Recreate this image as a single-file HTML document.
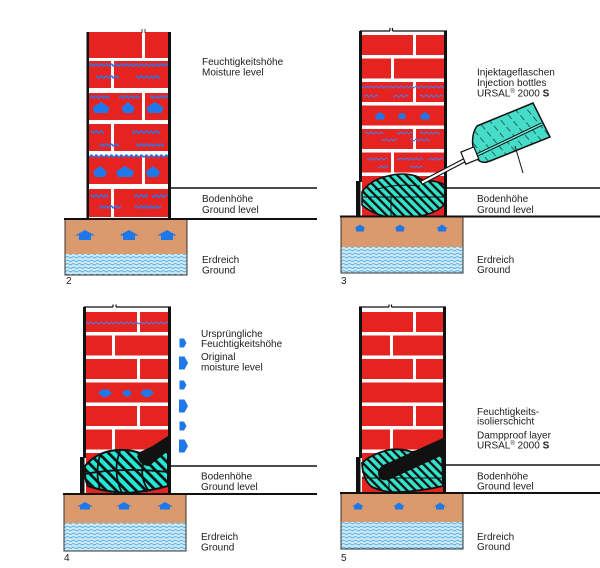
<!DOCTYPE html>
<html><head><meta charset="utf-8"><style>
html,body{margin:0;padding:0;background:#fff}
svg{display:block}
text{font-family:"Liberation Sans",Arial,sans-serif;font-size:10px;fill:#1c1c1c}
</style></head><body>
<svg width="600" height="568" viewBox="0 0 600 568" xmlns="http://www.w3.org/2000/svg">
<defs>
<pattern id="mw" patternUnits="userSpaceOnUse" x="0" y="-2" width="5" height="4"><path d="M0 2 Q1.25 0.2 2.5 2 T5 2" fill="none" stroke="#2f74e6" stroke-width="1.8"/></pattern>
<pattern id="mw2" patternUnits="userSpaceOnUse" x="0" y="-2" width="5" height="4"><path d="M0 2 Q1.25 0.4 2.5 2 T5 2" fill="none" stroke="#5a6fd6" stroke-width="1.3"/></pattern>
<pattern id="wt" patternUnits="userSpaceOnUse" width="6" height="3.5"><rect width="6" height="3.5" fill="#cbe9f5"/><path d="M0 1.75 Q1.5 0.4 3 1.75 T6 1.75" fill="none" stroke="#3f9fdc" stroke-width="0.7"/></pattern>
<pattern id="gh" patternUnits="userSpaceOnUse" width="6" height="6" patternTransform="rotate(-45)"><rect width="6" height="6" fill="#33e3cc"/><rect width="2.3" height="6" fill="#111"/></pattern>
<pattern id="gh2" patternUnits="userSpaceOnUse" width="7" height="7" patternTransform="rotate(-45)"><rect width="7" height="7" fill="#22e8d8"/><rect width="2.8" height="7" fill="#111"/></pattern>
<pattern id="bh" patternUnits="userSpaceOnUse" width="9" height="9" patternTransform="rotate(-40)"><rect width="9" height="9" fill="#45dcc8"/><rect width="0.8" height="6" fill="#1a4a44"/></pattern>
</defs>

<!-- ================= PANEL 2 ================= -->
<g fill="#e52421">
<rect x="89" y="32" width="53" height="26"/><rect x="145" y="32" width="23" height="26"/>
<rect x="89" y="61" width="22" height="27"/><rect x="114" y="61" width="54" height="27"/>
<rect x="89" y="93" width="53" height="27"/><rect x="145" y="93" width="23" height="27"/>
<rect x="89" y="124" width="22" height="27"/><rect x="114" y="124" width="54" height="27"/>
<rect x="89" y="156" width="53" height="28"/><rect x="145" y="156" width="23" height="28"/>
<rect x="89" y="189" width="22" height="28"/><rect x="114" y="189" width="54" height="28"/>
</g>
<g>
<rect x="89" y="-2" width="79" height="4" fill="url(#mw)" transform="translate(0,65)"/>
<rect x="96" y="-2" width="23" height="4" fill="url(#mw)" transform="translate(0,77)"/>
<rect x="136" y="-2" width="24" height="4" fill="url(#mw)" transform="translate(0,77)"/>
<rect x="90" y="-2" width="20" height="4" fill="url(#mw)" transform="translate(0,97)"/>
<rect x="119" y="-2" width="21" height="4" fill="url(#mw)" transform="translate(0,97)"/>
<rect x="150" y="-2" width="18" height="4" fill="url(#mw)" transform="translate(0,97)"/>
<rect x="91" y="-2" width="13" height="4" fill="url(#mw)" transform="translate(0,132)"/>
<rect x="132" y="-2" width="28" height="4" fill="url(#mw)" transform="translate(0,132)"/>
<rect x="99" y="-2" width="20" height="4" fill="url(#mw)" transform="translate(0,145)"/>
<rect x="136" y="-2" width="28" height="4" fill="url(#mw)" transform="translate(0,145)"/>
<rect x="89" y="-2" width="79" height="4" fill="url(#mw)" transform="translate(0,156)"/>
<rect x="91" y="-2" width="17" height="4" fill="url(#mw)" transform="translate(0,196)"/>
<rect x="134" y="-2" width="14" height="4" fill="url(#mw)" transform="translate(0,196)"/>
<rect x="152" y="-2" width="15" height="4" fill="url(#mw)" transform="translate(0,196)"/>
<rect x="99" y="-2" width="22" height="4" fill="url(#mw)" transform="translate(0,207)"/>
<rect x="135" y="-2" width="26" height="4" fill="url(#mw)" transform="translate(0,207)"/>
</g>
<g fill="#1f78ea">
<polygon points="101,102 109.5,107.5 107.5,113 94.5,113 92.5,107.5"/>
<polygon points="128,102 134.5,107.5 132.5,113 123.5,113 121.5,107.5"/>
<polygon points="155,102 163.5,107.5 161.5,113 148.5,113 146.5,107.5"/>
<polygon points="100,166 107,171.5 105,177 95,177 93,171.5"/>
<polygon points="125,166 134,171.5 132,177 118,177 116,171.5"/>
<polygon points="153,166 160,171.5 158,177 148,177 146,171.5"/>
</g>
<rect x="86.5" y="32" width="2.5" height="188" fill="#111"/>
<rect x="168" y="32" width="3" height="188" fill="#111"/>
<path d="M142,29 V33 M145,29 V33" stroke="#111" stroke-width="0.8"/>
<rect x="65" y="219" width="122" height="56" fill="#db9a6e"/>
<rect x="65" y="254" width="122" height="21" fill="url(#wt)"/>
<path d="M65,219 V275 H187 V219" fill="none" stroke="#333" stroke-width="1"/>
<g fill="#1f78ea">
<path d="M85,230 L95,235.5 L91,235.5 L91,240 L79,240 L79,235.5 L75,235.5 Z"/>
<path d="M129,230 L139,235.5 L135,235.5 L135,240 L123,240 L123,235.5 L119,235.5 Z"/>
<path d="M167,230 L177,235.5 L173,235.5 L173,240 L161,240 L161,235.5 L157,235.5 Z"/>
</g>
<g stroke="#111">
<line x1="170" y1="188" x2="317" y2="188" stroke-width="1.5"/>
<line x1="64" y1="219" x2="317" y2="219" stroke-width="2"/>
</g>
<text x="202" y="65">Feuchtigkeitshöhe</text>
<text x="202" y="75.5">Moisture level</text>
<text x="202" y="202">Bodenhöhe</text>
<text x="202" y="213">Ground level</text>
<text x="202" y="263">Erdreich</text>
<text x="202" y="273.5">Ground</text>
<text x="66" y="284">2</text>

<!-- ================= PANEL 3 ================= -->
<g fill="#e52421">
<rect x="362" y="35" width="51" height="20"/><rect x="416" y="35" width="28" height="20"/>
<rect x="362" y="58.5" width="29" height="20"/><rect x="394" y="58.5" width="50" height="20"/>
<rect x="362" y="82" width="51" height="20"/><rect x="416" y="82" width="28" height="20"/>
<rect x="362" y="105.5" width="82" height="20"/>
<rect x="362" y="129" width="51" height="20"/><rect x="416" y="129" width="28" height="20"/>
<rect x="362" y="152.5" width="29" height="20"/><rect x="394" y="152.5" width="50" height="20"/>
<rect x="362" y="176" width="51" height="20"/><rect x="416" y="176" width="28" height="20"/>
<rect x="362" y="199.5" width="29" height="17.5"/><rect x="394" y="199.5" width="50" height="17.5"/>
</g>
<g>
<rect x="362" y="-2" width="82" height="4" fill="url(#mw2)" transform="translate(0,87)"/>
<rect x="364" y="-2" width="14" height="4" fill="url(#mw2)" transform="translate(0,96)"/>
<rect x="393" y="-2" width="15" height="4" fill="url(#mw2)" transform="translate(0,96)"/>
<rect x="420" y="-2" width="23" height="4" fill="url(#mw2)" transform="translate(0,96)"/>
<rect x="365" y="-2" width="18" height="4" fill="url(#mw2)" transform="translate(0,133)"/>
<rect x="397" y="-2" width="15" height="4" fill="url(#mw2)" transform="translate(0,133)"/>
<rect x="420" y="-2" width="20" height="4" fill="url(#mw2)" transform="translate(0,133)"/>
<rect x="382" y="-2" width="15" height="4" fill="url(#mw2)" transform="translate(0,140)"/>
<rect x="410" y="-2" width="20" height="4" fill="url(#mw2)" transform="translate(0,140)"/>
<rect x="367" y="-2" width="20" height="4" fill="url(#mw2)" transform="translate(0,159)"/>
<rect x="397" y="-2" width="26" height="4" fill="url(#mw2)" transform="translate(0,159)"/>
<rect x="428" y="-2" width="15" height="4" fill="url(#mw2)" transform="translate(0,159)"/>
<rect x="378" y="-2" width="10" height="4" fill="url(#mw2)" transform="translate(0,167)"/>
<rect x="410" y="-2" width="13" height="4" fill="url(#mw2)" transform="translate(0,167)"/>
</g>
<g fill="#1f78ea">
<polygon points="380,112 385,115.5 384,119.5 376,119.5 375,115.5"/>
<polygon points="402,112.5 406,115.5 405,119 399,119 398,115.5"/>
<polygon points="425,112 430,115.5 429,119.5 421,119.5 420,115.5"/>
</g>
<!-- injection blob -->
<path d="M362,192 Q370,180 388,176 Q402,172 416,176 L424,181 Q436,180 445,185 L445,203 Q440,211 425,215 Q405,219 388,217 Q372,214 362,205 Z" fill="url(#gh)" stroke="#111" stroke-width="1.6"/>
<path d="M362,197 L445,197 M391,197 L391,217 M375,190 Q395,183 420,186" fill="none" stroke="#111" stroke-width="1"/>
<!-- walls -->
<rect x="359" y="31" width="3" height="151" fill="#111"/>
<rect x="356" y="181" width="4.5" height="36" fill="#111"/>
<rect x="444" y="31" width="3" height="186" fill="#111"/>
<path d="M360,31 H390 M392.5,31 H447 M390,28 V31 M392.5,28 V31" stroke="#111" stroke-width="1.2" fill="none"/>
<!-- bottle -->
<line x1="465" y1="160" x2="421" y2="183" stroke="#111" stroke-width="4.5"/>
<line x1="465" y1="160" x2="422" y2="182.5" stroke="#fff" stroke-width="2.3"/>
<path d="M477,126 L533,103 L550,137 L490,161 Q478,166 474,152 Q470,136 477,126 Z" fill="url(#bh)" stroke="#111" stroke-width="1.5"/>
<line x1="477" y1="155" x2="542" y2="124" stroke="#111" stroke-width="3.4"/>
<line x1="477" y1="155" x2="542" y2="124" stroke="#6ef0e0" stroke-width="1.4"/>
<rect x="-7" y="-7" width="14" height="13" transform="translate(470,156) rotate(-22)" fill="#fff" stroke="#111" stroke-width="1.2"/>
<line x1="515" y1="146" x2="523" y2="173" stroke="#111" stroke-width="1"/>
<rect x="341" y="216.5" width="122" height="56.5" fill="#db9a6e"/>
<rect x="341" y="247" width="122" height="26" fill="url(#wt)"/>
<path d="M341,216.5 V273 H463 V216.5" fill="none" stroke="#333" stroke-width="1"/>
<g fill="#1f78ea">
<path d="M360,224.5 L366,228.5 L364,228.5 L364,231.5 L356,231.5 L356,228.5 L354,228.5 Z"/>
<path d="M400,224.5 L406,228.5 L404,228.5 L404,231.5 L396,231.5 L396,228.5 L394,228.5 Z"/>
<path d="M442,224.5 L448,228.5 L446,228.5 L446,231.5 L438,231.5 L438,228.5 L436,228.5 Z"/>
</g>
<g stroke="#111">
<line x1="447" y1="188" x2="600" y2="188" stroke-width="1.5"/>
<line x1="340" y1="216.5" x2="600" y2="216.5" stroke-width="2"/>
</g>
<text x="477" y="75.5">Injektageflaschen</text>
<text x="477" y="86">Injection bottles</text>
<text x="477" y="96.5">URSAL<tspan font-size="6" dy="-3.5">®</tspan><tspan dy="3.5"> 2000 </tspan><tspan font-weight="bold">S</tspan></text>
<text x="477" y="202">Bodenhöhe</text>
<text x="477" y="213">Ground level</text>
<text x="477" y="263">Erdreich</text>
<text x="477" y="273">Ground</text>
<text x="341" y="284">3</text>

<!-- ================= PANEL 4 ================= -->
<g fill="#e52421">
<rect x="86" y="312" width="51" height="20"/><rect x="140" y="312" width="28" height="20"/>
<rect x="86" y="335.5" width="26" height="20"/><rect x="115" y="335.5" width="53" height="20"/>
<rect x="86" y="359" width="51" height="20"/><rect x="140" y="359" width="28" height="20"/>
<rect x="86" y="382.5" width="82" height="20"/>
<rect x="86" y="406" width="51" height="20"/><rect x="140" y="406" width="28" height="20"/>
<rect x="86" y="429.5" width="26" height="20"/><rect x="115" y="429.5" width="53" height="20"/>
<rect x="86" y="453" width="51" height="20"/><rect x="140" y="453" width="28" height="20"/>
<rect x="86" y="476.5" width="26" height="17.5"/><rect x="115" y="476.5" width="53" height="17.5"/>
</g>
<rect x="86" y="-2" width="82" height="4" fill="url(#mw2)" transform="translate(0,323)"/>
<g fill="#1f78ea">
<polygon points="98,393 102,389.5 108,389.5 112,393 107,397 103,397"/>
<polygon points="122,393 125,390 129,390 132,393 128.5,396.5 125.5,396.5"/>
<polygon points="140,393 144,389.5 150,389.5 154,393 149,397 145,397"/>
<polygon points="179.5,338.5 184,338.5 186.5,343 184,347.5 179.5,347.5"/>
<polygon points="179,356.5 184.5,356.5 188,363 184.5,369.5 179,369.5"/>
<polygon points="179.5,380.5 184,380.5 186.5,385 184,389.5 179.5,389.5"/>
<polygon points="179,399.5 184.5,399.5 188,406 184.5,412.5 179,412.5"/>
<polygon points="179.5,421.5 184,421.5 186.5,426 184,430.5 179.5,430.5"/>
<polygon points="179,439.5 184.5,439.5 188,446 184.5,452.5 179,452.5"/>
</g>
<path d="M85,466 Q95,454 110,451 Q126,448 140,453 L168,440 L168,486 Q150,491 128,493 Q105,492 88,486 Q84,478 85,466 Z" fill="url(#gh2)" stroke="#111" stroke-width="2"/>
<path d="M85,474 Q120,467 168,472 M120,451 Q112,472 122,493 M100,455 Q95,472 100,490 M145,458 Q138,475 148,490" fill="none" stroke="#111" stroke-width="1.8"/>
<path d="M137,456 L168,436 L168,451 L149,466 Q140,466 137,456 Z" fill="#111"/>
<rect x="83" y="307" width="3" height="151" fill="#111"/>
<rect x="80" y="457" width="4.5" height="37" fill="#111"/>
<rect x="168" y="307" width="3" height="187" fill="#111"/>
<path d="M84,307 H113 M116,307 H171 M113,304.5 V307 M116,304.5 V307" stroke="#111" stroke-width="1.2" fill="none"/>
<rect x="64" y="494" width="122" height="57" fill="#db9a6e"/>
<rect x="64" y="523" width="122" height="28" fill="url(#wt)"/>
<path d="M64,494 V551 H186 V494" fill="none" stroke="#333" stroke-width="1"/>
<g fill="#1f78ea">
<path d="M85,502 L93,506.5 L90,506.5 L90,509.5 L80,509.5 L80,506.5 L77,506.5 Z"/>
<path d="M124,502 L132,506.5 L129,506.5 L129,509.5 L119,509.5 L119,506.5 L116,506.5 Z"/>
<path d="M165,502 L173,506.5 L170,506.5 L170,509.5 L160,509.5 L160,506.5 L157,506.5 Z"/>
</g>
<g stroke="#111">
<line x1="170" y1="466" x2="317" y2="466" stroke-width="1.5"/>
<line x1="63" y1="494" x2="317" y2="494" stroke-width="2"/>
</g>
<text x="201" y="337">Ursprüngliche</text>
<text x="201" y="347">Feuchtigkeitshöhe</text>
<text x="201" y="360">Original</text>
<text x="201" y="370.5">moisture level</text>
<text x="201" y="479.5">Bodenhöhe</text>
<text x="201" y="490">Ground level</text>
<text x="201" y="540">Erdreich</text>
<text x="201" y="550.5">Ground</text>
<text x="64" y="561">4</text>

<!-- ================= PANEL 5 ================= -->
<g fill="#e52421">
<rect x="362" y="312" width="51" height="20"/><rect x="416" y="312" width="27" height="20"/>
<rect x="362" y="335.5" width="28" height="20"/><rect x="393" y="335.5" width="50" height="20"/>
<rect x="362" y="359" width="51" height="20"/><rect x="416" y="359" width="27" height="20"/>
<rect x="362" y="382.5" width="81" height="20"/>
<rect x="362" y="406" width="51" height="20"/><rect x="416" y="406" width="27" height="20"/>
<rect x="362" y="429.5" width="28" height="20"/><rect x="393" y="429.5" width="50" height="20"/>
<rect x="362" y="453" width="51" height="20"/><rect x="416" y="453" width="27" height="20"/>
<rect x="362" y="476.5" width="28" height="16.5"/><rect x="393" y="476.5" width="50" height="16.5"/>
</g>
<path d="M362,463 Q370,455 388,450 Q400,448 412,452 L442,446 L443,486 Q422,491 400,492 Q385,493 372,487 Q363,480 362,463 Z" fill="url(#gh)" stroke="#111" stroke-width="1.8"/>
<path d="M362,478 L443,478 M389,478 L389,493" fill="none" stroke="#111" stroke-width="1"/>
<path d="M443,438 L443,455 L393,478 Q380,484 378,474 Q378,466 388,463 Z" fill="#111"/>
<rect x="359" y="307" width="3" height="151" fill="#111"/>
<rect x="356" y="457" width="4.5" height="36" fill="#111"/>
<rect x="443" y="307" width="3" height="186" fill="#111"/>
<path d="M359,307 H389 M391.5,307 H446 M389,304.5 V307 M391.5,304.5 V307" stroke="#111" stroke-width="1.2" fill="none"/>
<rect x="341" y="493" width="122" height="56" fill="#db9a6e"/>
<rect x="341" y="522" width="122" height="27" fill="url(#wt)"/>
<path d="M341,493 V549 H463 V493" fill="none" stroke="#333" stroke-width="1"/>
<g fill="#1f78ea">
<path d="M358,502.5 L364,506.5 L362,506.5 L362,509.5 L354,509.5 L354,506.5 L352,506.5 Z"/>
<path d="M399,502.5 L405,506.5 L403,506.5 L403,509.5 L395,509.5 L395,506.5 L393,506.5 Z"/>
<path d="M440,502.5 L446,506.5 L444,506.5 L444,509.5 L436,509.5 L436,506.5 L434,506.5 Z"/>
</g>
<g stroke="#111">
<line x1="446" y1="465" x2="600" y2="465" stroke-width="1.5"/>
<line x1="340" y1="493" x2="600" y2="493" stroke-width="2"/>
</g>
<text x="477" y="415">Feuchtigkeits-</text>
<text x="477" y="424.5">isolierschicht</text>
<text x="477" y="438.5">Dampproof layer</text>
<text x="477" y="448.5">URSAL<tspan font-size="6" dy="-3.5">®</tspan><tspan dy="3.5"> 2000 </tspan><tspan font-weight="bold">S</tspan></text>
<text x="477" y="479.5">Bodenhöhe</text>
<text x="477" y="489.5">Ground level</text>
<text x="477" y="540">Erdreich</text>
<text x="477" y="550">Ground</text>
<text x="341" y="561">5</text>
</svg>
</body></html>
